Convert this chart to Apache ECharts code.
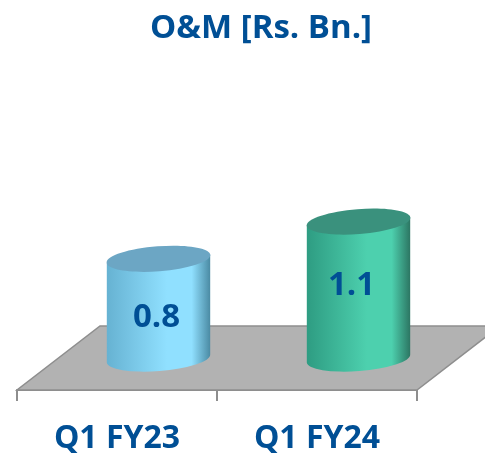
<!DOCTYPE html>
<html>
  <head>
    <meta charset="utf-8">
    <title>O&amp;M</title>
    <style>
      html, body { margin: 0; padding: 0; background: #fff; }
      #chart { width: 485px; height: 456px; }
    </style>
    <script src="https://cdn.jsdelivr.net/npm/echarts@6/dist/echarts.min.js"></script>
  </head>
  <body>
    <div id="chart"></div>
    <script>
      var titleText = 'O&M [Rs. Bn.]';
      var categories = ['Q1 FY23', 'Q1 FY24'];
      var values = [0.8, 1.1];
      var valueLabels = ['0.8', '1.1'];

      var textColor = '#004F95';
      var fontName = '"Open Sans", "Noto Sans", sans-serif';
      // [edge left, middle, edge right, top cap]
      var barColors = [
        ['#66B2D2', '#90E0FF', '#4A8AA3', '#6CA6C4'],
        ['#2E9C82', '#4DD0AE', '#2C7562', '#3A917D']
      ];

      // floor depth in px, the bars stand half way back
      var depthX = 83, depthY = 64;
      var barA = 52, barB = 12.5, barTilt = -4.4;

      var myChart = echarts.init(document.getElementById('chart'));

      function renderFloor(params, api) {
        var cs = params.coordSys;
        var front = cs.y + cs.height;
        return {
          type: 'polygon',
          shape: { points: [
            [cs.x, front],
            [cs.x + cs.width, front],
            [cs.x + cs.width + depthX, front - depthY],
            [cs.x + depthX, front - depthY]
          ] },
          style: { fill: '#B2B2B2', stroke: '#8E8E8E', lineWidth: 1.5 }
        };
      }

      function renderBar(params, api) {
        var i = params.dataIndex;
        var base = api.coord([i, 0]);
        var top = api.coord([i, api.value(1)]);
        var cx = base[0] + depthX / 2;
        var by = base[1] - depthY / 2;
        var ty = top[1] - depthY / 2;
        var rad = barTilt * Math.PI / 180;
        var dx = barA * Math.cos(rad), dy = barA * Math.sin(rad);
        // lowest point of the tilted ellipse below its centre
        var reach = Math.sqrt(dy * dy + barB * barB * Math.cos(rad) * Math.cos(rad));
        var c = barColors[i];
        var body = 'M' + (cx - dx) + ' ' + (ty - dy) +
          ' L' + (cx - dx) + ' ' + (by - dy) +
          ' A' + barA + ' ' + barB + ' ' + barTilt + ' 0 0 ' + (cx + dx) + ' ' + (by + dy) +
          ' L' + (cx + dx) + ' ' + (ty + dy) + ' Z';
        return {
          type: 'group',
          children: [
            {
              type: 'path',
              shape: { pathData: body, layout: 'cover',
                x: cx - dx, y: ty + dy, width: 2 * dx, height: by + reach - (ty + dy) },
              style: { fill: new echarts.graphic.LinearGradient(0, 0, 1, 0, [
                { offset: 0, color: c[0] },
                { offset: 0.58, color: c[1] },
                { offset: 0.82, color: c[1] },
                { offset: 1, color: c[2] }
              ]) }
            },
            {
              type: 'ellipse',
              x: cx, y: ty,
              rotation: -rad,
              shape: { cx: 0, cy: 0, rx: barA, ry: barB },
              style: { fill: c[3] }
            },
            {
              type: 'text',
              x: cx + (i === 0 ? -2 : -7),
              y: ty + (i === 0 ? 59 : 64),
              style: {
                text: valueLabels[i], fill: textColor,
                font: 'bold 33px ' + fontName,
                align: 'center', verticalAlign: 'middle'
              }
            }
          ]
        };
      }

      myChart.setOption({
        animation: false,
        backgroundColor: '#fff',
        title: {
          text: titleText,
          left: 256, top: 7, textAlign: 'center',
          textStyle: { color: textColor, fontFamily: fontName, fontWeight: 'bold', fontSize: 33 }
        },
        grid: { left: 17, width: 400, top: 142, height: 248 },
        xAxis: {
          type: 'category',
          data: categories,
          axisLine: { lineStyle: { color: '#8E8E8E', width: 2 } },
          axisTick: { show: true, length: 11, lineStyle: { color: '#8E8E8E', width: 2 } },
          axisLabel: {
            color: textColor, fontFamily: fontName, fontWeight: 'bold',
            fontSize: 32, margin: 33
          }
        },
        yAxis: { type: 'value', min: 0, max: 2, show: false },
        series: [
          { type: 'custom', renderItem: renderFloor, data: [[0, 0]], clip: false, z: 1, silent: true },
          {
            type: 'custom', renderItem: renderBar, clip: false, z: 2, silent: true,
            data: values.map(function (v, i) { return [i, v]; })
          }
        ]
      });
    </script>
  </body>
</html>
